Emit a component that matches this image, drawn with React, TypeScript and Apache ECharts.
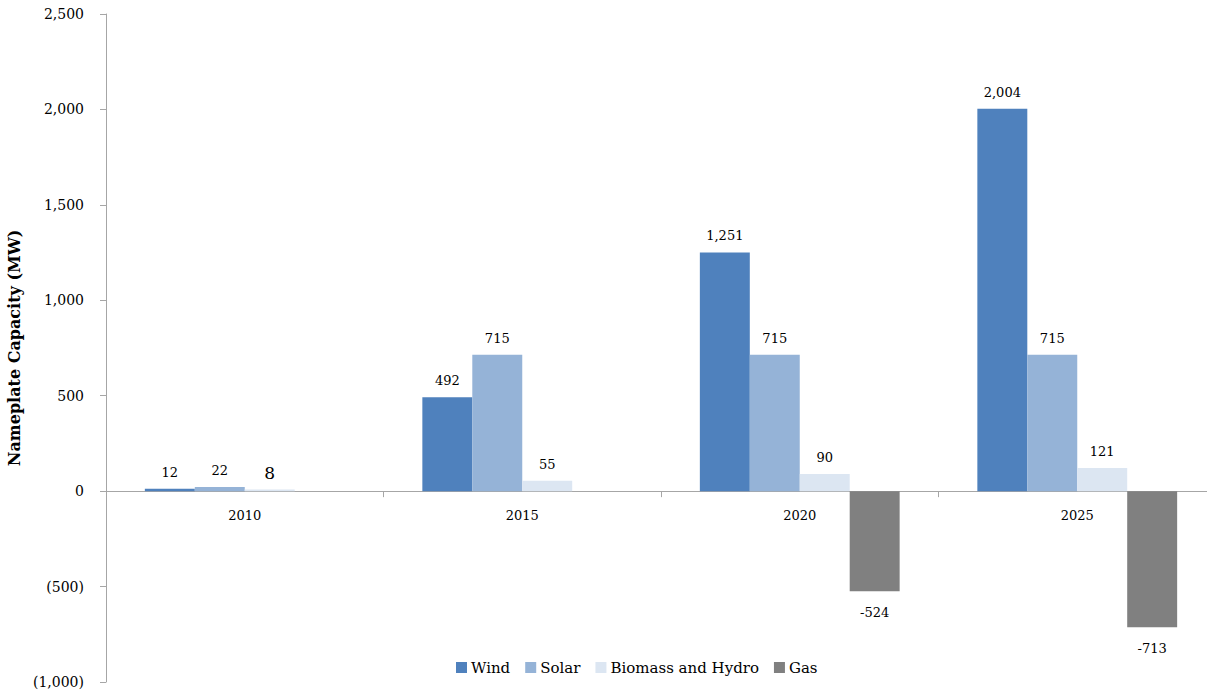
import React, { useEffect, useRef } from "react";
import * as echarts from "echarts";

const categories = ["2010", "2015", "2020", "2025"];
const wind = [12, 492, 1251, 2004];
const solar = [22, 715, 715, 715];
const biomassHydro = [8, 55, 90, 121];
const gas: (number | null)[] = [null, null, -524, -713];
const yTicks = { min: -1000, max: 2500, interval: 500 };

const FONT = "DejaVu Serif";
const GRID_TOP = 14;
const GRID_HEIGHT = 668;
// lift the category axis to the zero line (labels follow it)
const ZERO_OFFSET = -(GRID_HEIGHT * (0 - yTicks.min)) / (yTicks.max - yTicks.min);

function fmtAxis(v: number): string {
  const s = Math.abs(v).toLocaleString("en-US");
  return v < 0 ? `(${s})` : s;
}
function fmtLabel(v: number): string {
  const s = Math.abs(v).toLocaleString("en-US");
  return v < 0 ? `-${s}` : s;
}

export default function App() {
  const ref = useRef<HTMLDivElement>(null);
  useEffect(() => {
    document.body.style.margin = "0";
    if (!ref.current) return;
    const chart = echarts.init(ref.current, undefined, { renderer: "svg" });
    const labelBase = {
      show: true,
      position: "top" as const,
      distance: 10,
      color: "#000",
      fontFamily: FONT,
      fontSize: 13,
      formatter: (p: any) => (p.value == null ? "" : fmtLabel(p.value)),
    };
    chart.setOption({
      animation: false,
      backgroundColor: "#fff",
      textStyle: { fontFamily: FONT },
      grid: {
        left: 106,
        top: GRID_TOP,
        height: GRID_HEIGHT,
        width: 1110,
        outerBoundsMode: "none",
        containLabel: false,
      },
      legend: {
        left: 451,
        top: 655,
        itemWidth: 11,
        itemHeight: 11,
        itemGap: 15,
        icon: "rect",
        textStyle: { fontFamily: FONT, fontSize: 15, color: "#000", padding: [0, 0, 0, -1] },
        data: ["Wind", "Solar", "Biomass and Hydro", "Gas"],
      },
      xAxis: {
        type: "category",
        data: categories,
        offset: ZERO_OFFSET,
        axisLine: { onZero: false, lineStyle: { color: "#A6A6A6", width: 1 } },
        axisTick: { show: true, length: 6, lineStyle: { color: "#A6A6A6" } },
        axisLabel: { color: "#000", fontFamily: FONT, fontSize: 13, margin: 18 },
      },
      yAxis: {
        type: "value",
        min: yTicks.min,
        max: yTicks.max,
        interval: yTicks.interval,
        name: "Nameplate Capacity (MW)",
        nameLocation: "middle",
        nameGap: 77,
        nameTextStyle: { fontFamily: FONT, fontSize: 16, fontWeight: "bold", color: "#000" },
        axisLine: { show: true, lineStyle: { color: "#A6A6A6", width: 1 } },
        axisTick: { show: true, length: 6, lineStyle: { color: "#A6A6A6" } },
        axisLabel: {
          color: "#000",
          fontFamily: FONT,
          fontSize: 14,
          margin: 22,
          formatter: (v: number) => fmtAxis(v),
        },
        splitLine: { show: false },
      },
      series: [
        {
          name: "Wind",
          type: "bar",
          data: wind,
          itemStyle: { color: "#4F81BD" },
          barGap: "0%",
          barCategoryGap: "28%",
          label: labelBase,
        },
        {
          name: "Solar",
          type: "bar",
          data: solar,
          itemStyle: { color: "#95B3D7" },
          label: labelBase,
        },
        {
          name: "Biomass and Hydro",
          type: "bar",
          data: biomassHydro.map((v, i) =>
            i === 0 ? { value: v, label: { fontSize: 17, distance: 8 } } : v
          ),
          itemStyle: { color: "#DCE6F2" },
          label: labelBase,
        },
        {
          name: "Gas",
          type: "bar",
          data: gas,
          itemStyle: { color: "#808080" },
          label: { ...labelBase, position: "bottom", distance: 15 },
        },
      ],
    });
    return () => chart.dispose();
  }, []);
  return <div ref={ref} style={{ width: 1207, height: 691 }} />;
}
